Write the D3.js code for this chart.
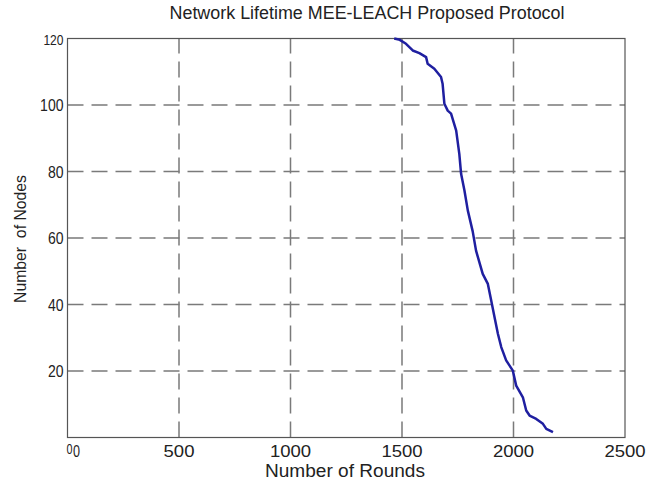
<!DOCTYPE html>
<html>
<head>
<meta charset="utf-8">
<script src="https://cdn.jsdelivr.net/npm/d3@7"></script>
<style>
body { margin: 0; background: #fff; }
svg text { font-family: "Liberation Sans", Arial, sans-serif; fill: #222; }
</style>
</head>
<body>
<div class="chart"></div>
<script>
var width = 657,
    height = 484;

// rounds vs alive nodes
var rounds = [1465, 1490, 1518, 1548, 1578, 1608, 1615, 1645, 1675, 1682, 1690, 1705, 1720, 1743, 1757, 1765,
              1780, 1795, 1817, 1832, 1862, 1885, 1900, 1915, 1930, 1945, 1967, 1997, 2012, 2042, 2057,
              2072, 2102, 2132, 2147, 2177];
var nodes  = [120, 119.6, 118.4, 116.4, 115.6, 114.4, 112.4, 110.9, 108.4, 106.4, 100.4, 98.3, 97.4, 92.3, 85.3, 79.3,
              74.3, 68.3, 62, 56.2, 49.2, 46.2, 41.2, 36.2, 31.2, 27.2, 23.2, 20.1, 15.6, 12.1, 8.1,
              6.6, 5.6, 4.1, 2.6, 1.6];
var xTicks = [0, 500, 1000, 1500, 2000, 2500];
var yTicks = [20, 40, 60, 80, 100, 120];

var margin = {left: 67.5, right: 32, top: 38.5, bottom: 46.5};

var svg = d3.select(".chart").append("svg")
    .attr("width", width)
    .attr("height", height);

var x = d3.scaleLinear().domain([0, 2500]).range([margin.left, width - margin.right]);
var y = d3.scaleLinear().domain([0, 120]).range([height - margin.bottom, margin.top]);

// grid
svg.append("g")
    .selectAll("line")
    .data(xTicks.slice(1, -1))
    .enter().append("line")
    .attr("x1", function(d) { return x(d); })
    .attr("x2", function(d) { return x(d); })
    .attr("y1", y(0)).attr("y2", y(120))
    .attr("stroke", "#7a7a7a").attr("stroke-width", 1.5)
    .attr("stroke-dasharray", "16,8");

svg.append("g")
    .selectAll("line")
    .data(yTicks.slice(0, -1))
    .enter().append("line")
    .attr("y1", function(d) { return y(d); })
    .attr("y2", function(d) { return y(d); })
    .attr("x1", x(0)).attr("x2", x(2500))
    .attr("stroke", "#7a7a7a").attr("stroke-width", 1.5)
    .attr("stroke-dasharray", "16,8");

// frame
svg.append("rect")
    .attr("x", x(0)).attr("y", y(120))
    .attr("width", x(2500) - x(0)).attr("height", y(0) - y(120))
    .attr("fill", "none").attr("stroke", "#555").attr("stroke-width", 1.2);

// tick labels
svg.append("g")
    .selectAll("text")
    .data(xTicks.slice(1))
    .enter().append("text")
    .attr("x", function(d) { return x(d); })
    .attr("y", y(0) + 19)
    .attr("text-anchor", "middle")
    .attr("font-size", 17)
    .attr("textLength", function(d) { return String(d).length * 10.3; })
    .attr("lengthAdjust", "spacingAndGlyphs")
    .text(function(d) { return d; });

svg.append("g")
    .selectAll("text")
    .data(yTicks)
    .enter().append("text")
    .attr("x", x(0) - 4)
    .attr("y", function(d) { return y(d) + 6; })
    .attr("text-anchor", "end")
    .attr("font-size", function(d) { return d == 120 ? 15 : 17; })
    .attr("textLength", function(d) { return String(d).length * (d == 120 ? 6.7 : 7.8); })
    .attr("lengthAdjust", "spacingAndGlyphs")
    .text(function(d) { return d; });

// the two zeros overlapping in the corner
svg.append("text")
    .attr("x", x(0) + 2).attr("y", y(0) + 16)
    .attr("text-anchor", "middle")
    .attr("font-size", 15)
    .attr("textLength", 6)
    .attr("lengthAdjust", "spacingAndGlyphs")
    .attr("fill", "#666")
    .text("0");
svg.append("text")
    .attr("x", x(0) + 9).attr("y", y(0) + 19)
    .attr("text-anchor", "middle")
    .attr("font-size", 16)
    .attr("textLength", 7)
    .attr("lengthAdjust", "spacingAndGlyphs")
    .attr("fill", "#3a4a5a")
    .text("0");

// curve
var line = d3.line()
    .x(function(d) { return x(d[0]); })
    .y(function(d) { return y(d[1]); });

svg.append("path")
    .datum(d3.zip(rounds, nodes))
    .attr("d", line)
    .attr("fill", "none")
    .attr("stroke", "#1f1fa0")
    .attr("stroke-width", 2.5)
    .attr("stroke-linejoin", "round");

// titles
svg.append("text")
    .attr("x", 367).attr("y", 19)
    .attr("text-anchor", "middle")
    .attr("font-size", 18)
    .attr("textLength", 395)
    .attr("lengthAdjust", "spacingAndGlyphs")
    .text("Network Lifetime MEE-LEACH Proposed Protocol");

svg.append("text")
    .attr("x", 345).attr("y", 477)
    .attr("text-anchor", "middle")
    .attr("font-size", 18)
    .attr("textLength", 160)
    .attr("lengthAdjust", "spacingAndGlyphs")
    .text("Number of Rounds");

svg.append("text")
    .attr("transform", "translate(26,239) rotate(-90)")
    .attr("text-anchor", "middle")
    .attr("font-size", 16)
    .attr("textLength", 128)
    .attr("lengthAdjust", "spacingAndGlyphs")
    .style("white-space", "pre")
    .text("Number  of Nodes");
</script>
</body>
</html>
